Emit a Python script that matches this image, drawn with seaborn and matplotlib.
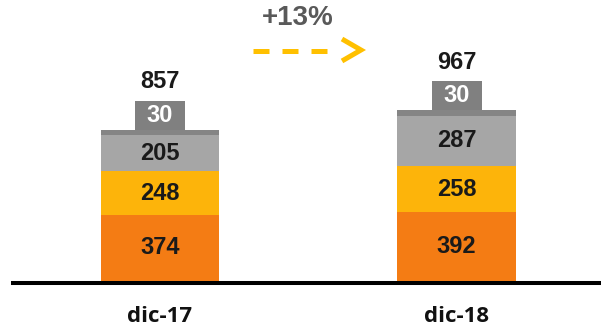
import numpy as np
import matplotlib
matplotlib.use("Agg")
import matplotlib.pyplot as plt
from matplotlib.patches import Rectangle
import seaborn as sns

# Data
categories = ["dic-17", "dic-18"]
seg_base = [374, 392]      # bottom segment (orange)
seg_mid = [248, 258]       # second segment (yellow)
seg_upper = [205, 287]     # third segment (light gray)
seg_top = [30, 30]         # thin top segment (dark gray)

segments = [seg_base, seg_mid, seg_upper, seg_top]
colors = ["#F47C14", "#FDB40A", "#A6A6A6", "#858585"]
text_colors = ["#1A1A1A", "#1A1A1A", "#1A1A1A", "#FFFFFF"]

totals = np.sum(np.array(segments), axis=0)
growth = totals[1] / totals[0] - 1

sns.set_theme(style="white")
plt.rcParams["font.family"] = ["Liberation Sans", "DejaVu Sans"]

fig = plt.figure(figsize=(6.01, 3.27), dpi=100)
ax = fig.add_axes([0, 0, 1, 1])

# Pixel scale helpers (axes span whole figure)
px_per_x = 296.5          # pixels per category step
px_per_y = 0.1765         # pixels per value unit
x0_px, y0_px = 160, 281   # position of first bar centre / baseline
W, H = 601, 327

bar_w = 0.40
cum = np.cumsum(np.array(segments), axis=0)

# Stacked bars: draw cumulative heights from tallest to shortest
for level in range(len(segments) - 1, -1, -1):
    sns.barplot(x=categories, y=cum[level], color=colors[level],
                saturation=1, width=bar_w, linewidth=0, ax=ax)

ax.set_xlim(-x0_px / px_per_x, (W - x0_px) / px_per_x)
ax.set_ylim(-(H - y0_px) / px_per_y, y0_px / px_per_y)
ax.axis("off")

# Baseline
ax.axhline(-2 / px_per_y, xmin=11 / W, xmax=1, color="black", lw=2.9,
           solid_capstyle="butt")

num_font = dict(fontsize=17, fontweight="bold", ha="center", va="center")

for i in range(len(categories)):
    # labels inside the three main segments
    for level in range(3):
        bottom = cum[level - 1][i] if level > 0 else 0
        ax.text(i, bottom + segments[level][i] / 2, f"{segments[level][i]}",
                color=text_colors[level], **num_font)
    # callout box for the thin top segment
    bw = 50 / px_per_x
    bh = 29 / px_per_y
    ax.add_patch(Rectangle((i - bw / 2, totals[i]), bw, bh,
                           facecolor="#808080", edgecolor="none", zorder=3))
    ax.text(i, totals[i] + bh / 2, f"{seg_top[i]}", color="white",
            zorder=4, **num_font)
    # total above the bar
    ax.text(i, totals[i] + 48 / px_per_y, f"{totals[i]}", color="#1A1A1A",
            **num_font)
    # category label
    ax.text(i, -(317 - y0_px) / px_per_y, categories[i], fontsize=16,
            fontweight="bold", ha="center", va="center", color="#111111",
            family=["Open Sans", "DejaVu Sans"])

# Growth annotation with dashed arrow
def px(xp, yp):
    return (xp - x0_px) / px_per_x, (y0_px - yp) / px_per_y

gx, gy = px(298, 18)
ax.text(gx, gy, f"+{growth * 100:.0f}%", fontsize=20, fontweight="bold",
        color="#595959", ha="center", va="center")

arrow_col = "#FFC000"
xa, ya = px(253, 51)
xb, yb = px(327, 51)
ax.plot([xa, xb], [ya, yb], color=arrow_col, lw=3.6,
        dashes=(3.2, 2.6), solid_capstyle="butt", dash_capstyle="butt")
c1 = px(342, 39)
c2 = px(361, 50)
c3 = px(342, 61)
ax.plot([c1[0], c2[0], c3[0]], [c1[1], c2[1], c3[1]], color=arrow_col,
        lw=3.6, solid_joinstyle="miter", solid_capstyle="butt")

fig.savefig("out.png", dpi=100)
